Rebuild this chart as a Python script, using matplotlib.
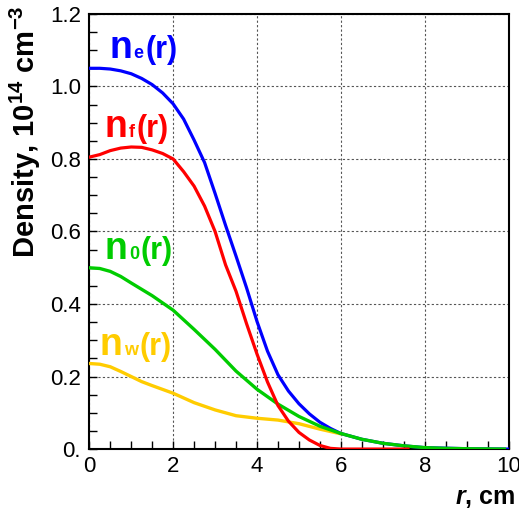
import numpy as np
import matplotlib
matplotlib.use("Agg")
import matplotlib.pyplot as plt
from matplotlib.ticker import MultipleLocator
from matplotlib.offsetbox import TextArea, HPacker, AnnotationBbox

plt.rcParams['font.family'] = ['Liberation Sans', 'DejaVu Sans']
plt.rcParams['mathtext.fontset'] = 'custom'
plt.rcParams['mathtext.bf'] = 'Liberation Sans:bold'
plt.rcParams['mathtext.rm'] = 'Liberation Sans:bold'
plt.rcParams['mathtext.it'] = 'Liberation Sans:bold:italic'
plt.rcParams['mathtext.default'] = 'bf'

# data (r in cm, density in 1e14 cm^-3)
r_e = [0, 0.25, 0.5, 0.75, 1.0, 1.25, 1.5, 1.75, 2.0, 2.25, 2.5, 2.75, 3.0, 3.25, 3.5, 3.75,
       4.0, 4.25, 4.5, 4.75, 5.0, 5.25, 5.5, 5.75, 6.0, 6.5, 7.0, 7.5, 8.0, 9.0, 10.0]
n_e = [1.050, 1.050, 1.048, 1.043, 1.035, 1.022, 1.005, 0.982, 0.952, 0.91, 0.852, 0.79, 0.705, 0.617, 0.532, 0.445,
       0.352, 0.27, 0.205, 0.16, 0.125, 0.097, 0.074, 0.057, 0.043, 0.027, 0.016, 0.009, 0.004, 0.001, 0.0]

r_f = [0, 0.25, 0.5, 0.75, 1.0, 1.25, 1.5, 1.75, 2.0, 2.25, 2.5, 2.75, 3.0, 3.25, 3.5, 3.75,
       4.0, 4.25, 4.5, 4.75, 5.0, 5.25, 5.5, 5.75, 6.0, 7.6]
n_f = [0.805, 0.812, 0.823, 0.830, 0.833, 0.832, 0.825, 0.815, 0.800, 0.765, 0.725, 0.67, 0.60, 0.508, 0.435, 0.346,
       0.262, 0.185, 0.12, 0.077, 0.046, 0.025, 0.010, 0.002, 0.0, 0.0]

r_0 = [0, 0.25, 0.5, 0.75, 1.0, 1.5, 2.0, 2.5, 3.0, 3.5, 4.0, 4.5, 5.0, 5.5, 6.0, 6.5, 7.0, 7.5, 8.0, 8.5, 9.0, 9.9]
n_0 = [0.50, 0.498, 0.49, 0.476, 0.458, 0.423, 0.383, 0.33, 0.275, 0.215, 0.165, 0.124, 0.09, 0.063, 0.043, 0.027,
       0.016, 0.009, 0.004, 0.002, 0.001, 0.0]

r_w = [0, 0.25, 0.5, 0.75, 1.0, 1.25, 1.5, 2.0, 2.5, 3.0, 3.5, 4.0, 4.5, 5.0, 5.5, 6.0]
n_w = [0.236, 0.234, 0.227, 0.214, 0.200, 0.186, 0.175, 0.154, 0.128, 0.108, 0.092, 0.085, 0.080, 0.070, 0.055, 0.042]

subs = ['e', 'f', '0', 'w']
c_e, c_f, c_0, c_w = '#0000ff', '#ff0000', '#00cc00', '#ffcc00'

fig = plt.figure(figsize=(5.19, 5.15), dpi=100)
ax = fig.add_axes([0.172, 0.128, 0.808, 0.845])

ax.plot(r_w, n_w, color=c_w, lw=2.4, zorder=3)
ax.plot(r_e, n_e, color=c_e, lw=2.3, zorder=4)
ax.plot(r_0, n_0, color=c_0, lw=2.4, zorder=5)
ax.plot(r_f, n_f, color=c_f, lw=2.3, zorder=6)

ax.set_xlim(0, 10)
ax.set_ylim(0, 1.2)
ax.xaxis.set_major_locator(MultipleLocator(2))
ax.xaxis.set_minor_locator(MultipleLocator(0.5))
ax.yaxis.set_minor_locator(MultipleLocator(0.05))
ax.set_yticks([0, 0.2, 0.4, 0.6, 0.8, 1.0, 1.2])
ax.set_yticklabels(['0.', '0.2', '0.4', '0.6', '0.8', '1.0', '1.2'])
ax.tick_params(which='both', direction='in', length=6, width=1, labelsize=16,
               top=False, right=False)
ax.tick_params(axis='x', pad=5)
ax.tick_params(axis='y', pad=6)
ax.grid(True, which='major', color='#555555', lw=0.8, ls=(0, (2, 2)))
for s in ax.spines.values():
    s.set_linewidth(1.5)

ax.set_ylabel('Density, 10$^{14}$ cm$^{-3}$', fontsize=21, fontweight='bold', ha='right')
ax.yaxis.set_label_coords(-0.11, 1.02)
ax.set_xlabel('$\\mathit{r}$, cm', fontsize=18, fontweight='bold', ha='right')
ax.xaxis.set_label_coords(1.015, -0.085)

# curve labels: big "n", small subscript, normal "(r)"
def curve_label(x, y, sub, color):
    parts = [TextArea('n', textprops=dict(size=27, weight='bold', color=color)),
             TextArea(sub, textprops=dict(size=13, weight='bold', color=color)),
             TextArea('(r)', textprops=dict(size=22, weight='bold', color=color))]
    box = HPacker(children=parts, align='baseline', pad=0, sep=1)
    ab = AnnotationBbox(box, (x, y), xycoords='data', box_alignment=(0, 0.5),
                        frameon=False, pad=0)
    ax.add_artist(ab)

curve_label(0.48, 1.107, subs[0], c_e)
curve_label(0.37, 0.887, subs[1], c_f)
curve_label(0.37, 0.553, subs[2], c_0)
curve_label(0.25, 0.287, subs[3], c_w)

fig.savefig('out.png', dpi=100)
